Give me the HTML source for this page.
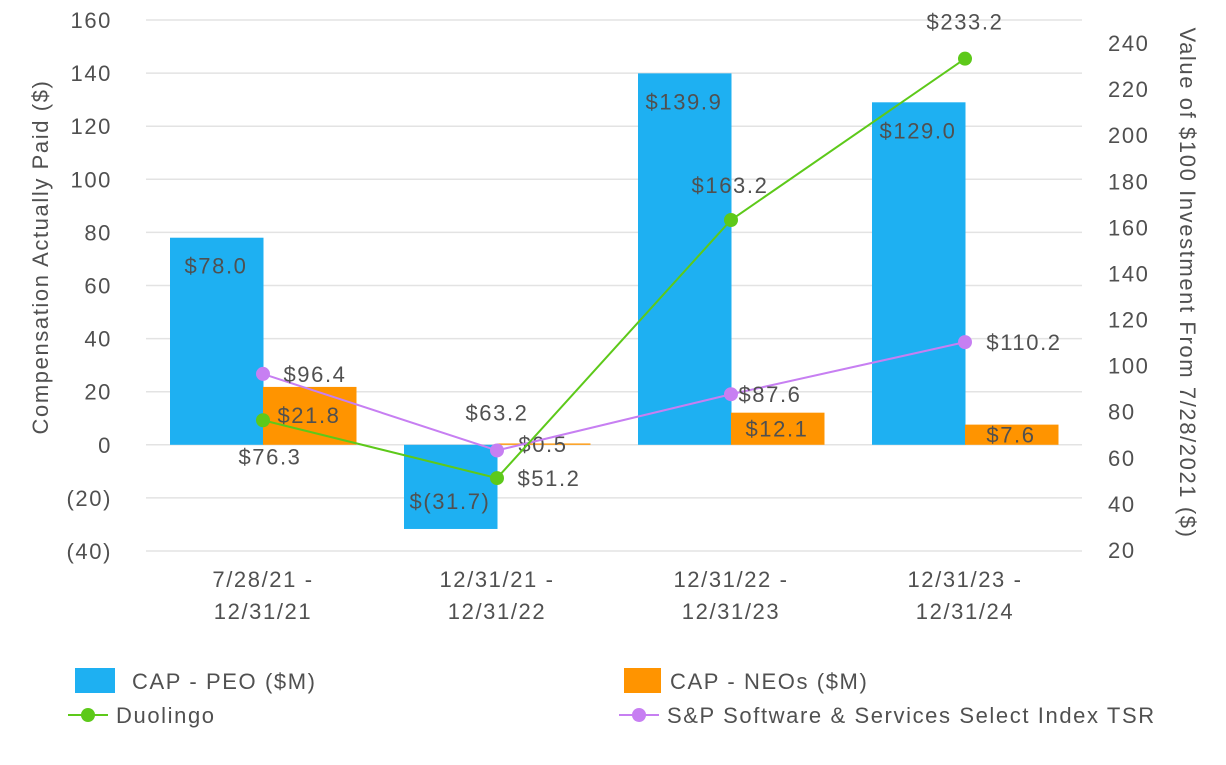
<!DOCTYPE html>
<html><head><meta charset="utf-8"><style>
body{margin:0;background:#fff;font-family:"Liberation Sans",sans-serif;}
svg text{font-family:"Liberation Sans",sans-serif;fill:#505050;letter-spacing:1.6px;}
</style></head><body>
<svg id="c" width="1226" height="760"></svg>
<script>
const categories=[["7/28/21 -","12/31/21"],["12/31/21 -","12/31/22"],["12/31/22 -","12/31/23"],["12/31/23 -","12/31/24"]];
const peoValues=[78.0,-31.7,139.9,129.0];
const neoValues=[21.8,0.5,12.1,7.6];
const duolingoValues=[76.3,51.2,163.2,233.2];
const spValues=[96.4,63.2,87.6,110.2];
const leftTicks=[-40,-20,0,20,40,60,80,100,120,140,160];
const leftTickLabels=["(40)","(20)","0","20","40","60","80","100","120","140","160"];
const rightTicks=[20,40,60,80,100,120,140,160,180,200,220,240];
const peoLabels=["$78.0","$(31.7)","$139.9","$129.0"];
const neoLabels=["$21.8","$0.5","$12.1","$7.6"];
const duoLabels=["$76.3","$51.2","$163.2","$233.2"];
const spLabels=["$96.4","$63.2","$87.6","$110.2"];

const NS="http://www.w3.org/2000/svg",svg=document.getElementById('c');
function el(t,a,p){const e=document.createElementNS(NS,t);for(const k in a)e.setAttribute(k,a[k]);(p||svg).appendChild(e);return e;}
const FS=22;
const plotL=146,plotR=1082,bw=(plotR-plotL)/4;
const yL=v=>444.8-v*2.655;
const yR=v=>550-(v-20)*2.3045;
const xC=i=>plotL+bw*(i+0.5);

leftTicks.forEach((t,i)=>{
  const g=el('line',{x1:plotL,x2:plotR,y1:yL(t),y2:yL(t),stroke:'#e3e3e3','stroke-width':1.5});
  
  const tx=el('text',{x:112,y:yL(t)+8,'text-anchor':'end','font-size':FS});
  tx.textContent=leftTickLabels[i];
  
});
rightTicks.forEach(t=>{
  const tx=el('text',{x:1108,y:yR(t)+8,'font-size':FS});tx.textContent=t;
  
});
let t=el('text',{transform:'translate(48,257) rotate(-90)','text-anchor':'middle','font-size':FS});t.textContent='Compensation Actually Paid ($)';

t=el('text',{transform:'translate(1180,283) rotate(90)','text-anchor':'middle','font-size':FS});t.textContent='Value of $100 Investment From 7/28/2021 ($)';


categories.forEach((c,i)=>{
  const tx=el('text',{x:xC(i),y:587,'text-anchor':'middle','font-size':FS});
  c.forEach((l,j)=>{const s=el('tspan',{x:xC(i),dy:j?32:0},tx);s.textContent=l;});
  
});

function bars(vals,labels,off,color,name){
  vals.forEach((v,i)=>{
    const x=plotL+bw*i+off,y0=yL(0),y1=yL(v),top=Math.min(y0,y1),h=Math.abs(y1-y0);
    const r=el('rect',{x:x,y:top,width:93.5,height:Math.max(h,1),fill:color});
    
    let ly = v>=0 ? (h<56? top+h/2 : top+28) : (y1-28);
    const tx=el('text',{x:x+46,y:ly+8,'text-anchor':'middle','font-size':FS});tx.textContent=labels[i];
    
  });
}
bars(peoValues,peoLabels,24,'#1EB0F2','bar-peo');
bars(neoValues,neoLabels,117,'#FF9400','bar-neo');

function line(vals,labels,color,name,offs){
  const pts=vals.map((v,i)=>[xC(i),yR(v)]);
  const p=el('polyline',{points:pts.map(q=>q.join(',')).join(' '),fill:'none',stroke:color,'stroke-width':2});
  
  pts.forEach((q,i)=>{
    const c=el('circle',{cx:q[0],cy:q[1],r:7,fill:color});
    
    const tx=el('text',{x:q[0]+offs[i][0],y:q[1]+offs[i][1]+8,'text-anchor':'middle','font-size':FS});tx.textContent=labels[i];
    
  });
}
line(spValues,spLabels,'#C77FF2','sp-index',[[52,0],[0,-38],[39,0],[59,0]]);
line(duolingoValues,duoLabels,'#5DC91A','duolingo',[[7,36],[52,0],[-1,-35],[0,-37]]);

// legend
let r=el('rect',{x:75,y:668,width:40,height:25,fill:'#1EB0F2'});
t=el('text',{x:132,y:689,'font-size':FS});t.textContent='CAP - PEO ($M)';
r=el('rect',{x:624,y:668,width:37,height:25,fill:'#FF9400'});
t=el('text',{x:670,y:689,'font-size':FS});t.textContent='CAP - NEOs ($M)';
let l=el('line',{x1:68,x2:108,y1:715,y2:715,stroke:'#5DC91A','stroke-width':2});
let c=el('circle',{cx:88,cy:715,r:7,fill:'#5DC91A'});
t=el('text',{x:116,y:723,'font-size':FS});t.textContent='Duolingo';
l=el('line',{x1:619,x2:659,y1:715,y2:715,stroke:'#C77FF2','stroke-width':2});
c=el('circle',{cx:639,cy:715,r:7,fill:'#C77FF2'});
t=el('text',{x:667,y:723,'font-size':FS});t.textContent='S&P Software & Services Select Index TSR';
</script>
</body></html>
